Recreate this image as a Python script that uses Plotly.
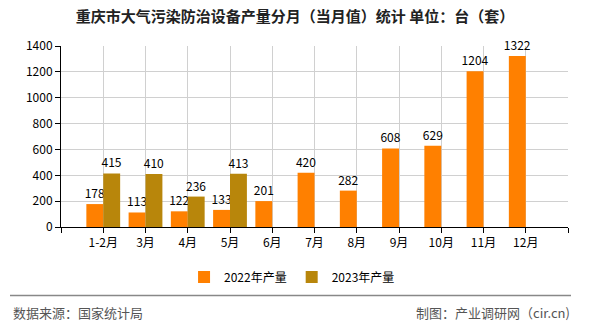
import plotly.graph_objects as go

categories = ["1-2月", "3月", "4月", "5月", "6月", "7月", "8月", "9月", "10月", "11月", "12月"]
values_2022 = [178, 113, 122, 133, 201, 420, 282, 608, 629, 1204, 1322]
values_2023 = [415, 410, 236, 413, None, None, None, None, None, None, None]
series_names = ["2022年产量", "2023年产量"]
colors = ["#FF8000", "#B8860B"]
y_ticks = [0, 200, 400, 600, 800, 1000, 1200, 1400]

W, H = 590, 330
L, R, T, B = 61, 22, 46, 101
pw, ph = W - L - R, H - T - B

def px_x(x):
    return (x - L) / pw

def px_y(y):
    return (H - B - y) / ph

font = "Noto Sans CJK SC, DejaVu Sans, sans-serif"
xs = list(range(len(categories)))

fig = go.Figure()
for name, vals, c in zip(series_names, [values_2022, values_2023], colors):
    fig.add_trace(go.Bar(
        x=xs, y=vals, name=name, marker=dict(color=c, line=dict(width=0)),
        text=[("" if v is None else str(v)) for v in vals],
        textposition="outside", cliponaxis=False, constraintext="none",
        textfont=dict(size=12, color="#000000", family=font),
    ))

fig.update_layout(
    width=W, height=H, margin=dict(l=L, r=R, t=T, b=B),
    paper_bgcolor="white", plot_bgcolor="white",
    barmode="group", bargap=0.2, bargroupgap=0,
    uniformtext=dict(mode=False),
    font=dict(family=font, size=12, color="#000"),
    title=dict(text="<b>重庆市大气污染防治设备产量分月（当月值）统计 单位：台（套）</b>",
               x=0.5, xanchor="center", xref="container",
               y=1 - 17 / H, yanchor="middle", yref="container",
               font=dict(size=15, color="#222", family=font)),
    showlegend=True,
    legend=dict(orientation="h", x=0.495, xanchor="center", xref="container",
                y=1 - 277 / H, yanchor="middle", yref="container",
                font=dict(size=12, color="#000", family=font),
                itemwidth=30, traceorder="normal"),
    xaxis=dict(range=[-1, len(categories)], tickmode="array",
               tickvals=[-1] + xs + [len(categories)],
               ticktext=[""] + categories + [""],
               showgrid=True, gridcolor="#d0d0d0", gridwidth=1,
               showline=True, linecolor="#000", linewidth=1,
               ticks="outside", ticklen=5, tickcolor="#000",
               tickfont=dict(size=12, color="#000", family=font),
               zeroline=False, fixedrange=True),
    yaxis=dict(range=[0, 1400], tickmode="array", tickvals=y_ticks,
               showgrid=True, gridcolor="#d0d0d0", gridwidth=1,
               showline=True, linecolor="#000", linewidth=1,
               ticks="outside", ticklen=5, tickcolor="#000",
               tickfont=dict(size=12, color="#000", family=font),
               zeroline=False, fixedrange=True),
    shapes=[dict(type="line", xref="paper", yref="paper",
                 x0=px_x(10), x1=px_x(571), y0=px_y(298), y1=px_y(298),
                 line=dict(color="#888", width=1.5))],
    annotations=[
        dict(text="数据来源：国家统计局", xref="paper", yref="paper",
             x=px_x(11), y=px_y(315), xanchor="left", yanchor="middle",
             showarrow=False, font=dict(size=13, color="#555", family=font)),
        dict(text="制图：产业调研网（cir.cn)", xref="paper", yref="paper",
             x=px_x(572), y=px_y(315), xanchor="right", yanchor="middle",
             showarrow=False, font=dict(size=13, color="#555", family=font)),
    ],
)

fig.write_html("out.html")
